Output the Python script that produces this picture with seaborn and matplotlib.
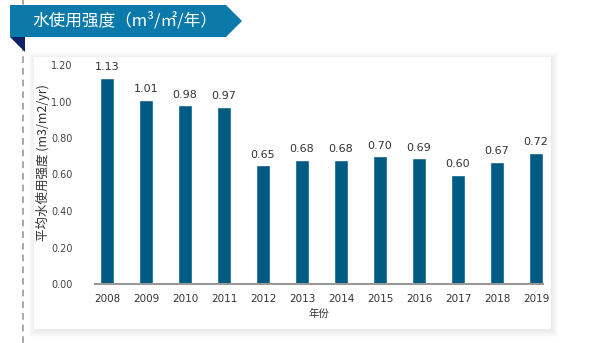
import matplotlib
matplotlib.use("Agg")
import matplotlib.pyplot as plt
import seaborn as sns
import pandas as pd
from matplotlib.patches import Rectangle, Polygon

years = ["2008", "2009", "2010", "2011", "2012", "2013", "2014", "2015", "2016", "2017", "2018", "2019"]
values = [1.13, 1.01, 0.98, 0.97, 0.65, 0.68, 0.68, 0.70, 0.69, 0.60, 0.67, 0.72]
yticks = [0.0, 0.2, 0.4, 0.6, 0.8, 1.0, 1.2]
title_text = "水使用强度（m³/㎡/年）"
ylabel_text = "平均水使用强度 (m3/m2/yr)"
xlabel_text = "年份"

sns.set_theme(style="white")
plt.rcParams['font.family'] = ['DejaVu Sans', 'Noto Sans CJK SC']
cjk = ['Noto Sans CJK SC', 'DejaVu Sans']

W, H = 595, 343
fig = plt.figure(figsize=(W / 100, H / 100), dpi=100)
fig.patch.set_facecolor("white")

def fx(x):
    return x / W

def fy(y):
    return 1 - y / H

# dashed vertical guide line
fig.add_artist(plt.Line2D([fx(23), fx(23)], [0, 1], transform=fig.transFigure,
                          color="#9a9a9a", lw=1.2, ls=(0, (4, 3)), zorder=0))

# soft panel shadow + panel
for d in range(7, 0, -1):
    fig.add_artist(Rectangle((fx(34 - d + 2), fy(329 + d + 1)), fx(517 + 2 * d - 2), (272 + 2 * d - 1) / H,
                             transform=fig.transFigure, facecolor="black", alpha=0.012,
                             edgecolor="none", zorder=0.5))
fig.add_artist(Rectangle((fx(34), fy(329)), fx(517), 272 / H, transform=fig.transFigure,
                         facecolor="white", edgecolor="none", zorder=0.6))

# header banner
banner = Polygon([(fx(10), fy(5)), (fx(226), fy(5)), (fx(242), fy(21)), (fx(226), fy(37)),
                  (fx(10), fy(37))], closed=True, transform=fig.transFigure,
                 facecolor="#0b7aab", edgecolor="none", zorder=1)
fig.add_artist(banner)
tri = Polygon([(fx(10), fy(37)), (fx(25), fy(37)), (fx(25), fy(52))], closed=True,
              transform=fig.transFigure, facecolor="#0c2166", edgecolor="none", zorder=1)
fig.add_artist(tri)
fig.text(fx(32), fy(21), title_text, color="white", fontsize=12, family=cjk,
         ha="left", va="center", zorder=2)

ax = fig.add_axes([95 / W, 1 - 284 / H, 448 / W, 219 / H])
ax.set_facecolor("none")
ax.set_zorder(3)

df = pd.DataFrame({"year": years, "value": values})
sns.barplot(data=df, x="year", y="value", color="#005b84", saturation=1, width=0.34, ax=ax)

ax.set_xlim(-0.31, 11.18)
ax.set_ylim(0, 1.2)
ax.set_yticks(yticks)
ax.set_yticklabels([f"{v:.2f}" for v in yticks], fontsize=7, color="#444444")
ax.tick_params(axis="y", length=0, pad=16)
ax.tick_params(axis="x", length=0, pad=7, labelsize=7.5, labelcolor="#333333")

for s in ["top", "right", "left"]:
    ax.spines[s].set_visible(False)
ax.spines["bottom"].set_color("#999999")
ax.spines["bottom"].set_linewidth(1.5)

ax.bar_label(ax.containers[0], labels=[f"{v:.2f}" for v in values], padding=4,
             fontsize=8, color="#333333")
for t in ax.texts:
    t.set_clip_on(False)

ax.set_xlabel(xlabel_text, fontsize=7.5, family=cjk, color="#333333", labelpad=4)
ax.set_ylabel(ylabel_text, fontsize=9, family=cjk, color="#333333")
ax.yaxis.set_label_coords((50 - 95) / 448, (284 - 163) / 219)

fig.savefig("out.png", dpi=100, facecolor="white")
